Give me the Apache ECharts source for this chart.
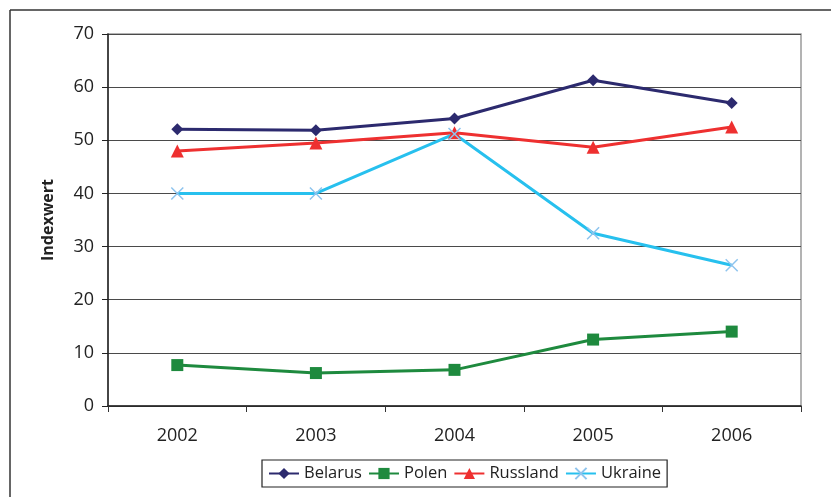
<!DOCTYPE html>
<html>
<head>
<meta charset="utf-8">
<script src="https://cdn.jsdelivr.net/npm/echarts@6/dist/echarts.min.js"></script>
<style>html,body{margin:0;padding:0;background:#fff}#c{width:831px;height:497px}</style>
</head>
<body>
<div id="c"></div>
<script>
const years = ['2002', '2003', '2004', '2005', '2006'];
const belarus = [52.1, 51.9, 54.1, 61.3, 57.0];
const polen = [7.7, 6.2, 6.8, 12.5, 14.0];
const russland = [48.0, 49.5, 51.4, 48.7, 52.5];
const ukraine = [40.0, 40.0, 51.2, 32.5, 26.5];
const yTicks = [0, 10, 20, 30, 40, 50, 60, 70];

const FONT = '"Open Sans", "DejaVu Sans", sans-serif';
const chart = echarts.init(document.getElementById('c'), null, {renderer: 'canvas'});
const crossPath = 'path://M0,0L10,10M10,0L0,10';

function series(name, data, color, symbol, size, extra) {
  return Object.assign({
    name, type: 'line', data,
    symbol, symbolSize: size,
    lineStyle: {color, width: 3},
    itemStyle: {color},
    emphasis: {disabled: true},
    animation: false
  }, extra || {});
}

chart.setOption({
  animation: false,
  backgroundColor: '#fff',
  textStyle: {fontFamily: FONT},
  grid: {left: 108, right: 30, top: 34, bottom: 91, show: true, borderColor: '#9a9a9a', borderWidth: 1.5, backgroundColor: 'transparent'},
  graphic: [
    {type: 'line', shape: {x1: 10, y1: 10, x2: 831, y2: 10}, style: {stroke: '#333', lineWidth: 1.5}},
    {type: 'line', shape: {x1: 10, y1: 10, x2: 10, y2: 497}, style: {stroke: '#333', lineWidth: 1.5}}
  ],
  xAxis: {
    type: 'category', data: years, boundaryGap: true,
    axisLine: {lineStyle: {color: '#222', width: 1.5}},
    axisTick: {show: true, length: 6, interval: 0, lineStyle: {color: '#333'}},
    axisLabel: {color: '#222', fontSize: 18, margin: 21, fontFamily: FONT},
    splitLine: {show: false}
  },
  yAxis: {
    type: 'value', min: yTicks[0], max: yTicks[yTicks.length - 1], interval: 10,
    name: 'Indexwert', nameLocation: 'middle', nameGap: 52, nameRotate: 90,
    nameTextStyle: {fontSize: 16, fontWeight: 'bold', color: '#222', fontFamily: FONT},
    axisLine: {show: true, lineStyle: {color: '#222', width: 1.5}},
    axisTick: {show: true, length: 6, lineStyle: {color: '#222'}},
    axisLabel: {color: '#222', fontSize: 18, margin: 14, fontFamily: FONT},
    splitLine: {show: true, lineStyle: {color: '#4a4a4a', width: 1.2}}
  },
  legend: {
    show: true, left: 262, top: 460, orient: 'horizontal',
    padding: [5, 6, 5, 6], itemGap: 6, itemWidth: 30, itemHeight: 14,
    borderColor: '#222', borderWidth: 1.2,
    textStyle: {fontSize: 16.5, color: '#222', fontFamily: FONT},
    data: ['Belarus', 'Polen', 'Russland', 'Ukraine']
  },
  series: [
    series('Belarus', belarus, '#2c2a6e', 'diamond', 12),
    series('Polen', polen, '#1e8a3e', 'rect', 12),
    series('Russland', russland, '#ee3030', 'triangle', 13),
    series('Ukraine', ukraine, '#27c0ee', crossPath, 12, {
      itemStyle: {color: '#8ec4ee', borderColor: '#8ec4ee', borderWidth: 1.5}
    })
  ]
});
</script>
</body>
</html>
